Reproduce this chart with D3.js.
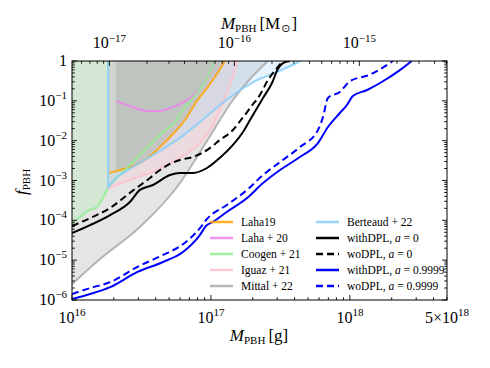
<!DOCTYPE html>
<html><head><meta charset="utf-8">
<script src="https://cdn.jsdelivr.net/npm/d3@7"></script>
<style>
body{margin:0;background:#fff}
svg{display:block}
text{font-family:"Liberation Serif","DejaVu Serif",serif;fill:#000}
</style>
</head><body><svg id="c" width="490" height="368"></svg>
<script>
// ---------- data (M in grams, f_PBH) ----------
const mittalM = [1e16, 1.59e16, 3.08e16, 5.98e16, 9.36e16, 1.44e17, 1.91e17, 2.57e17];
const mittalF = [2.5e-6, 1.07e-5, 6.8e-5, 8.6e-4, 9.8e-3, 0.105, 0.353, 1];

const laha19M = [1.85e16, 2.21e16, 2.75e16, 3.35e16, 3.95e16, 4.67e16, 5.51e16, 6.50e16, 7.93e16, 9.36e16, 1.105e17, 1.26e17];
const laha19F = [1.54e-3, 1.83e-3, 2.3e-3, 3.27e-3, 5.2e-3, 9.3e-3, 1.65e-2, 3.3e-2, 0.099, 0.21, 0.47, 1];

const laha20M = [2.07e16, 2.61e16, 3.46e16, 4.30e16, 5.07e16, 7.06e16, 8.76e16, 9.84e16, 1.07e17];
const laha20F = [0.1, 0.074, 0.0555, 0.0555, 0.066, 0.118, 0.25, 0.50, 1];

const coogenM = [1e16, 1.14e16, 1.35e16, 1.51e16, 1.67e16, 1.82e16, 2.11e16, 2.49e16, 2.84e16, 3.35e16, 3.83e16, 4.52e16, 5.69e16, 6.29e16, 7.93e16, 9.36e16, 1.07e17];
const coogenF = [8.6e-5, 1.21e-4, 1.82e-4, 2.16e-4, 3.63e-4, 6.5e-4, 1.16e-3, 2.06e-3, 3.27e-3, 5.8e-3, 9.3e-3, 1.65e-2, 3.3e-2, 0.059, 0.157, 0.37, 1];

const iguazM = [1.82e16, 2.61e16, 4.09e16, 5.98e16, 8.34e16, 1.034e17, 1.20e17, 1.37e17, 1.49e17, 1.56e17];
const iguazF = [6.5e-4, 1.03e-3, 1.83e-3, 3.7e-3, 8.7e-3, 0.0247, 0.0785, 0.25, 0.59, 1];

const berteaudM = [1.82e16, 1.82e16, 2.11e16, 2.75e16, 3.64e16, 4.30e16, 5.98e16, 8.34e16, 1.16e17, 1.62e17, 2.14e17, 2.99e17, 4.16e17, 4.37e17];
const berteaudF = [1, 6.9e-4, 1.23e-3, 2.2e-3, 3.9e-3, 5.5e-3, 0.0116, 0.0294, 0.0785, 0.187, 0.33, 0.53, 0.89, 1];

const withA0M = [1e16, 1.35e16, 1.88e16, 2.61e16, 3.08e16, 3.83e16, 5.07e16, 5.98e16, 7.42e16, 9.36e16, 1.16e17, 1.44e17, 1.70e17, 1.91e17, 2.37e17, 2.75e17, 3.03e17, 3.30e17, 3.70e17];
const withA0F = [4.8e-5, 7.6e-5, 1.36e-4, 2.88e-4, 5.8e-4, 7.7e-4, 1.37e-3, 1.54e-3, 1.54e-3, 2.06e-3, 3.7e-3, 7.8e-3, 1.65e-2, 3.3e-2, 0.118, 0.28, 0.63, 0.89, 1];

const woA0M = [1e16, 1.35e16, 1.88e16, 2.61e16, 3.64e16, 4.30e16, 5.07e16, 5.98e16, 7.42e16, 9.36e16, 1.16e17, 1.44e17, 1.62e17, 1.82e17, 1.91e17, 2.25e17, 2.57e17, 2.99e17, 3.30e17];
const woA0F = [7.2e-5, 1.14e-4, 2.04e-4, 4.9e-4, 1.16e-3, 1.83e-3, 2.6e-3, 3.27e-3, 3.9e-3, 5.8e-3, 1.04e-2, 1.85e-2, 3.1e-2, 5.2e-2, 6.6e-2, 0.14, 0.33, 0.67, 1];

const withA1M = [1e16, 1.35e16, 1.88e16, 2.94e16, 4.52e16, 6.29e16, 8.34e16, 9.2e16, 1.034e17, 1.30e17, 1.82e17, 2.37e17, 3.14e17, 4.37e17, 5.89e17, 6.95e17, 8.47e17, 9.52e17, 1.05e18, 1.33e18, 1.73e18, 2.29e18, 2.79e18];
const withA1F = [1.06e-6, 1.41e-6, 2.1e-6, 5.0e-6, 9.0e-6, 1.6e-5, 4.3e-5, 7.2e-5, 9.1e-5, 1.62e-4, 3.63e-4, 8.6e-4, 1.83e-3, 3.9e-3, 8.7e-3, 0.022, 0.0495, 0.0785, 0.132, 0.187, 0.31, 0.59, 1];

const woA1M = [1e16, 1.35e16, 1.88e16, 2.94e16, 4.52e16, 6.29e16, 8.34e16, 9.36e16, 1.30e17, 1.82e17, 2.37e17, 3.14e17, 4.37e17, 5.89e17, 6.40e17, 6.95e17, 8.47e17, 1.0e18, 1.39e18, 2.04e18];
const woA1F = [1.41e-6, 2.0e-6, 2.8e-6, 6.7e-6, 1.35e-5, 2.5e-5, 6.4e-5, 1.08e-4, 2.43e-4, 5.8e-4, 1.37e-3, 2.9e-3, 6.9e-3, 1.85e-2, 3.9e-2, 0.118, 0.167, 0.31, 0.45, 1];

const xTickVals = [1e16, 1e17, 1e18, 5e18];
const xTickExp = ["16", "17", "18", "18"];
const xTickPre = ["10", "10", "10", "5\u00d710"];
const yTickVals = [1e-6, 1e-5, 1e-4, 1e-3, 1e-2, 1e-1, 1];
const yTickExp = ["\u22126", "\u22125", "\u22124", "\u22123", "\u22122", "\u22121", ""];
const topTickVals = [1e-17, 1e-16, 1e-15];
const topTickExp = ["\u221217", "\u221216", "\u221215"];

// ---------- layout ----------
const svg = d3.select("#c");
const L = 72, R = 447, T = 61, B = 300;
const MSUN = 1.989e33;
const x = d3.scaleLog().domain([1e16, 5e18]).range([L, R]);
const y = d3.scaleLog().domain([1e-6, 1]).range([B, T]);
const xTop = d3.scaleLog().domain([1e16 / MSUN, 1e19 / MSUN]).range([L, R]);

svg.append("defs").append("clipPath").attr("id", "clip")
  .append("rect").attr("x", L).attr("y", T).attr("width", R - L).attr("height", B - T);
const plot = svg.append("g").attr("clip-path", "url(#clip)");

const pts = (M, F) => M.map((m, i) => [m, F[i]]);
const area = d3.area().x(d => x(d[0])).y0(T).y1(d => y(d[1]));
const lineLin = d3.line().x(d => x(d[0])).y(d => y(d[1]));
const lineSm = d3.line().x(d => x(d[0])).y(d => y(d[1])).curve(d3.curveMonotoneX);

function interpLog(M, F, m) {
  for (let i = 0; i < M.length - 1; i++) {
    if (m >= M[i] && m <= M[i + 1]) {
      const t = (Math.log(m) - Math.log(M[i])) / (Math.log(M[i + 1]) - Math.log(M[i]));
      return Math.exp(Math.log(F[i]) + t * (Math.log(F[i + 1]) - Math.log(F[i])));
    }
  }
  return F[0];
}

const series = [
  {name: "Laha19", M: laha19M, F: laha19F, color: "#ffa500"},
  {name: "Laha+20", M: laha20M, F: laha20F, color: "#ee82ee"},
  {name: "Coogen+21", M: coogenM, F: coogenF, color: "#90ee90"},
  {name: "Iguaz+21", M: iguazM, F: iguazF, color: "#ffc0cb"},
  {name: "Mittal+22", M: mittalM, F: mittalF, color: "#a9a9a9"},
  {name: "Berteaud+22", M: berteaudM, F: berteaudF, color: "#87cefa"}
];

// fills
plot.append("path").attr("d", area(pts(mittalM, mittalF))).attr("fill", "#a9a9a9").attr("fill-opacity", 0.3);
plot.append("path").attr("d", area(pts(coogenM, coogenF))).attr("fill", "#90ee90").attr("fill-opacity", 0.2);
plot.append("path").attr("d", area(pts(iguazM, iguazF))).attr("fill", "#ffc0cb").attr("fill-opacity", 0.25);
plot.append("path").attr("d", area(pts(berteaudM, berteaudF))).attr("fill", "#87cefa").attr("fill-opacity", 0.2);
plot.append("path").attr("d", area(pts(laha19M, laha19F))).attr("fill", "#ffa500").attr("fill-opacity", 0.06);
const l20Start = laha20M[0];
const l20Band = [[l20Start, interpLog(laha19M, laha19F, l20Start)]]
  .concat(pts(laha19M, laha19F).filter(d => d[0] > l20Start));
plot.append("path").attr("d", area(l20Band)).attr("fill", "#8a8a8a").attr("fill-opacity", 0.22);

series.forEach(s => {
  plot.append("path").attr("d", (s.name === "Berteaud+22" ? lineLin : lineSm)(pts(s.M, s.F)))
    .attr("fill", "none").attr("stroke", s.color).attr("stroke-width", 2).attr("stroke-opacity", 0.85);
});

const models = [
  {label: "0", M: withA0M, F: withA0F, color: "#000", dash: null, pre: "withDPL"},
  {label: "0", M: woA0M, F: woA0F, color: "#000", dash: "7,4", pre: "woDPL"},
  {label: "0.9999", M: withA1M, F: withA1F, color: "#0000ff", dash: null, pre: "withDPL"},
  {label: "0.9999", M: woA1M, F: woA1F, color: "#0000ff", dash: "7,4", pre: "woDPL"}
];
models.forEach(s => {
  plot.append("path").attr("d", lineSm(pts(s.M, s.F)))
    .attr("fill", "none").attr("stroke", s.color).attr("stroke-width", 2)
    .attr("stroke-dasharray", s.dash);
});

// ---------- axes ----------
const ax = svg.append("g");
ax.append("rect").attr("x", L).attr("y", T).attr("width", R - L).attr("height", B - T)
  .attr("fill", "none").attr("stroke", "#000").attr("stroke-width", 1);

function tick(x1, y1, x2, y2) {
  ax.append("line").attr("x1", x1).attr("y1", y1).attr("x2", x2).attr("y2", y2)
    .attr("stroke", "#000").attr("stroke-width", 0.9);
}
for (let e = 16; e <= 18; e++) {
  for (let k = 1; k <= 9; k++) {
    const v = k * Math.pow(10, e);
    if (v < 1e16 || v > 5e18) continue;
    tick(x(v), B, x(v), B - (k === 1 ? 5 : 2.8));
  }
}
for (let e = -18; e <= -15; e++) {
  for (let k = 1; k <= 9; k++) {
    const v = k * Math.pow(10, e);
    if (v < xTop.domain()[0] || v > xTop.domain()[1]) continue;
    tick(xTop(v), T, xTop(v), T + (k === 1 ? 5 : 2.8));
  }
}
for (let e = -6; e <= 0; e++) {
  for (let k = 1; k <= 9; k++) {
    const v = k * Math.pow(10, e);
    if (v > 1) continue;
    const len = k === 1 ? 5 : 2.8;
    tick(L, y(v), L + len, y(v));
    tick(R, y(v), R - len, y(v));
  }
}

const FS = 16, ES = 11;
xTickVals.forEach((v, i) => {
  const t = ax.append("text").attr("x", x(v)).attr("y", 323).attr("text-anchor", "middle").attr("font-size", FS);
  t.append("tspan").text(xTickPre[i]);
  t.append("tspan").attr("font-size", ES).attr("dy", -7).text(xTickExp[i]);
});
yTickVals.forEach((v, i) => {
  const t = ax.append("text").attr("x", 67).attr("y", y(v) + 5).attr("text-anchor", "end").attr("font-size", FS);
  if (yTickExp[i] === "") { t.text("1"); return; }
  t.append("tspan").text("10");
  t.append("tspan").attr("font-size", ES).attr("dy", -7).text(yTickExp[i]);
});
topTickVals.forEach((v, i) => {
  const t = ax.append("text").attr("x", xTop(v)).attr("y", 48).attr("text-anchor", "middle").attr("font-size", FS);
  t.append("tspan").text("10");
  t.append("tspan").attr("font-size", ES).attr("dy", -6).text(topTickExp[i]);
});

// axis titles
const bl = svg.append("text").attr("x", 259).attr("y", 341).attr("text-anchor", "middle").attr("font-size", 17);
bl.append("tspan").attr("font-style", "italic").text("M");
bl.append("tspan").attr("font-size", 11).attr("dy", 3).text("PBH");
bl.append("tspan").attr("dy", -3).attr("dx", 3).text("[g]");

const tl = svg.append("text").attr("x", 259).attr("y", 29).attr("text-anchor", "middle").attr("font-size", 17);
tl.append("tspan").attr("font-style", "italic").text("M");
tl.append("tspan").attr("font-size", 11).attr("dy", 2.5).text("PBH");
tl.append("tspan").attr("dy", -2.5).attr("dx", 3).text("[M");
tl.append("tspan").attr("font-size", 11).attr("dy", 2.5).attr("dx", 1).attr("font-family", "DejaVu Sans").text("\u2299");
tl.append("tspan").attr("dy", -2.5).attr("dx", 1).text("]");

const yl = svg.append("text").attr("transform", "translate(27,182) rotate(-90)")
  .attr("text-anchor", "middle").attr("font-size", 17);
yl.append("tspan").attr("font-style", "italic").text("f");
yl.append("tspan").attr("font-size", 11).attr("dy", 3).text("PBH");

// ---------- legend ----------
const lg = svg.append("g");
const rowY = [222, 238, 254, 270, 286];
function legText(xp, yp, parts) {
  const t = lg.append("text").attr("x", xp).attr("y", yp + 4).attr("font-size", 11.5);
  parts.forEach(p => {
    const s = t.append("tspan").text(p[0]);
    if (p[1]) s.attr("font-style", "italic");
  });
}
series.forEach((s, i) => {
  const col = i < 5 ? 0 : 1;
  const row = i < 5 ? i : 0;
  const x0 = col === 0 ? 210 : 316;
  const yp = rowY[row];
  lg.append("line").attr("x1", x0).attr("x2", x0 + 23).attr("y1", yp).attr("y2", yp)
    .attr("stroke", s.color).attr("stroke-width", 2.5).attr("stroke-opacity", 0.85);
  legText(x0 + 31, yp, [[s.name.replace("+", " + "), false]]);
});
models.forEach((s, i) => {
  const yp = rowY[i + 1];
  lg.append("line").attr("x1", 316).attr("x2", 339).attr("y1", yp).attr("y2", yp)
    .attr("stroke", s.color).attr("stroke-width", 2.5).attr("stroke-dasharray", s.dash);
  legText(347, yp, [[s.pre + ", ", false], ["a", true], [" = " + s.label, false]]);
});
</script>
</body></html>
